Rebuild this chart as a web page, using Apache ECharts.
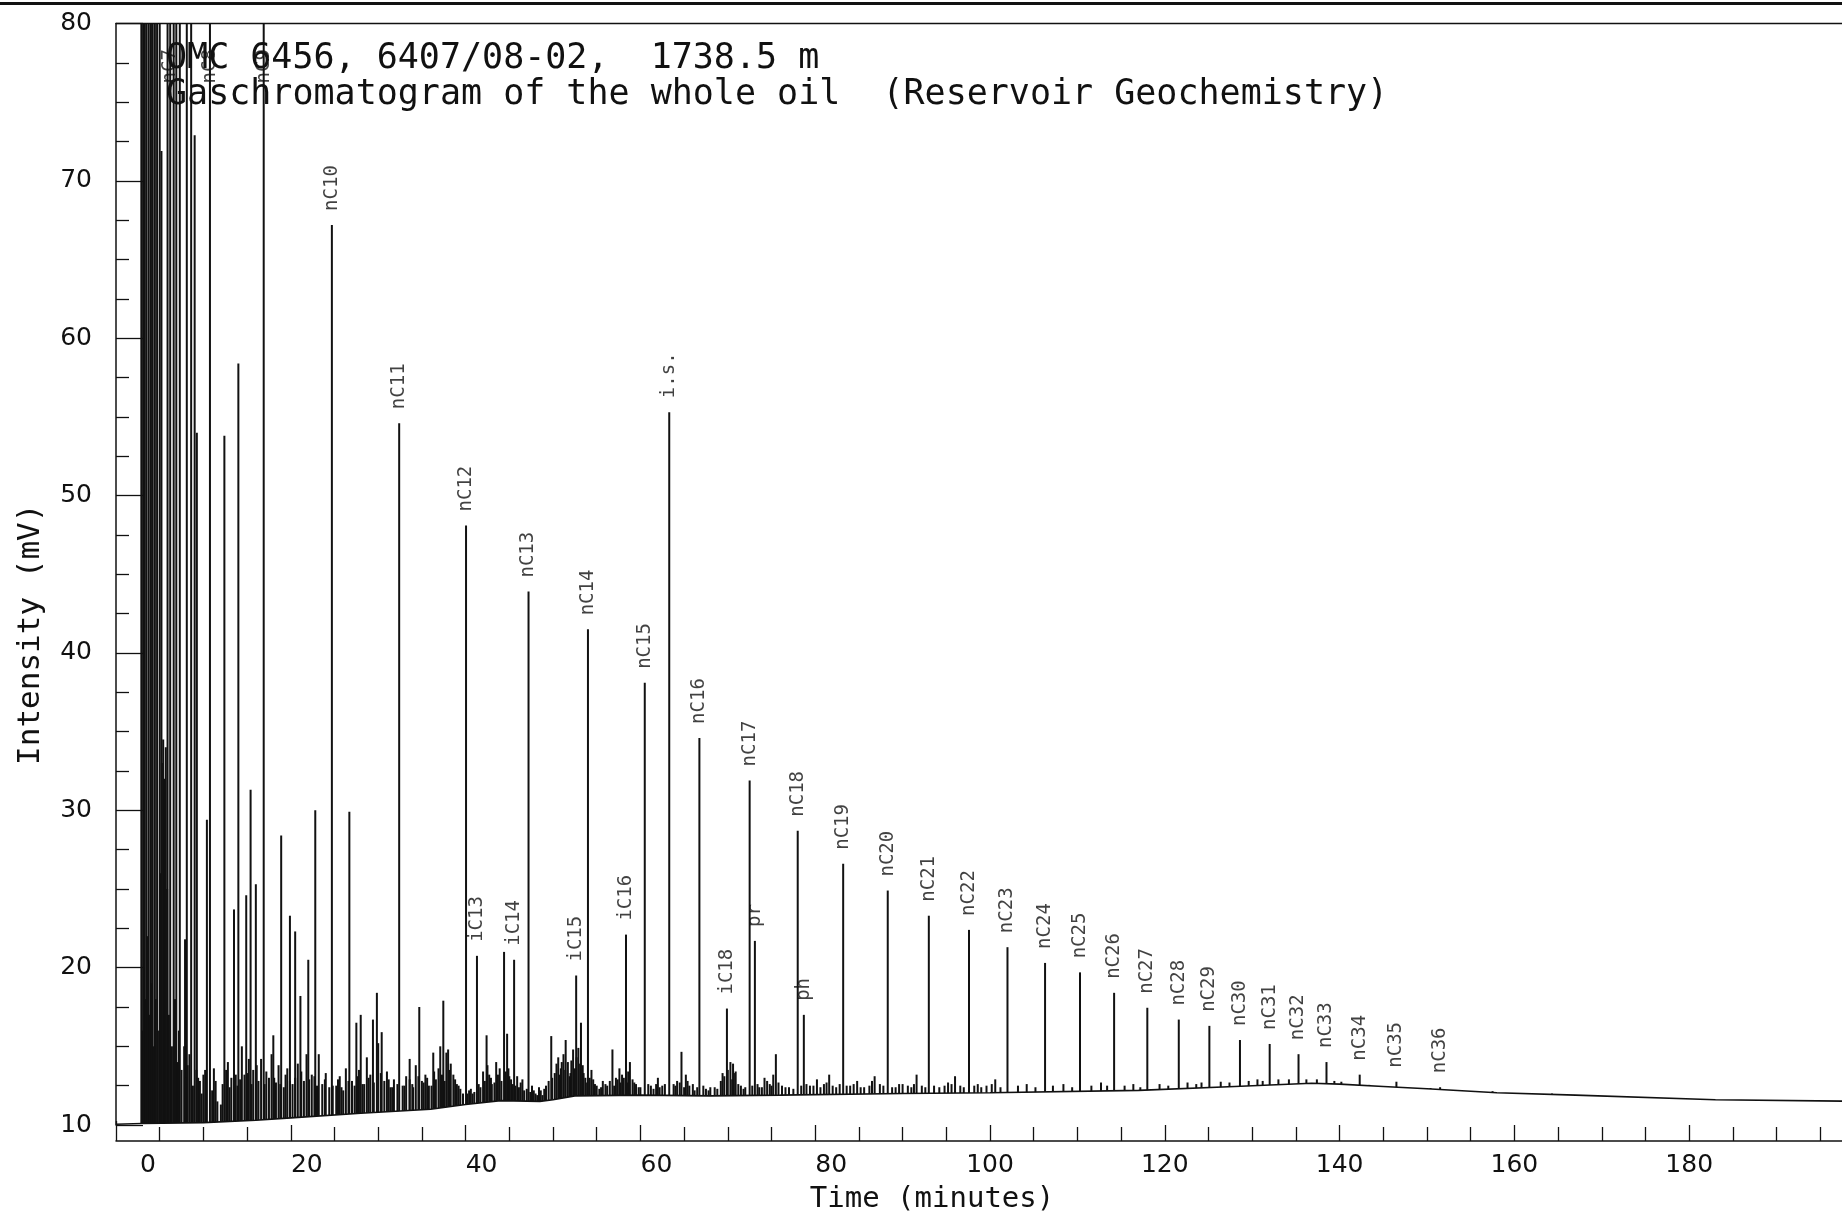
<!DOCTYPE html>
<html>
<head>
<meta charset="utf-8">
<title>Gaschromatogram of the whole oil</title>
<script src="https://cdn.jsdelivr.net/npm/echarts@6/dist/echarts.min.js"></script>
<style>
    html, body { margin: 0; padding: 0; background: #fff; }
    #chart { width: 1842px; height: 1215px; }
</style>
</head>
<body>
<div id="chart"></div>
<script>
// main peaks: retention time (min) and top (mV); 100 = off scale
const peakTime = [2.9, 3.1, 3.3, 3.5, 3.75, 4.0, 4.2, 4.45, 4.7, 5.0, 5.2, 5.9, 6.2, 6.6, 6.9, 7.3, 7.9, 8.1, 8.6, 9.0,
    9.25, 10.4, 10.75, 12.4, 13.5, 14.0, 14.9, 15.4, 16.0, 16.9, 18.0, 18.9, 19.9, 20.5, 21.1, 22.0, 22.8, 24.7, 26.7, 27.5,
    28.0, 29.4, 29.85, 30.4, 32.4, 33.6, 34.7, 36.3, 37.1, 37.45, 38.0, 40.05, 41.3, 42.4, 44.4, 44.75, 45.55, 47.2, 49.8, 51.45,
    52.65, 53.2, 54.0, 56.8, 58.35, 58.8, 60.5, 63.3, 64.7, 66.75, 69.9, 70.6, 72.5, 73.1, 75.5, 78.0, 78.7, 83.2, 86.8, 88.3,
    91.6, 93.0, 96.0, 97.6, 100.6, 102.0, 106.3, 110.3, 112.7, 114.2, 118.0, 121.6, 125.1, 126.4, 128.6, 132.0, 135.3, 138.5, 142.3, 146.5,
    151.5];
const peakHeight = [100, 100, 100, 100, 100, 100, 100, 100, 100, 100, 71.9, 100, 100, 100, 100, 100, 21.8, 100, 100, 72.9,
    54.0, 29.4, 100, 53.8, 23.7, 58.4, 24.6, 31.3, 25.3, 100, 15.7, 28.4, 23.3, 22.3, 18.2, 20.5, 30.0, 67.2, 29.9, 16.5,
    17.0, 16.7, 18.4, 15.9, 54.6, 14.2, 17.5, 14.6, 15.0, 17.9, 14.8, 48.1, 20.75, 15.7, 21.0, 15.8, 20.5, 43.9, 15.65, 15.4,
    19.5, 16.5, 41.5, 14.8, 22.1, 14.0, 38.1, 55.3, 14.65, 34.6, 17.4, 13.9, 31.9, 21.7, 14.5, 28.7, 17.0, 26.6, 13.1, 24.9,
    13.2, 23.3, 13.1, 22.4, 12.9, 21.3, 20.3, 19.7, 12.7, 18.4, 17.45, 16.7, 16.3, 12.75, 15.4, 15.15, 14.5, 14.0, 13.2, 12.75,
    12.4];

// small peaks near the baseline
const grassTime = [3.0, 3.2, 3.4, 3.6, 3.85, 4.1, 4.35, 4.55, 4.8, 5.1, 5.25, 5.4, 5.55, 5.7, 5.85, 6.05, 6.4, 6.75, 7.0, 7.2,
    7.5, 7.8, 8.0, 8.4, 8.8, 9.4, 9.8, 10.2, 11.2, 11.6, 12.0, 12.8, 13.2, 13.9, 14.4, 14.7, 15.2, 15.7, 16.3, 16.6,
    17.5, 17.8, 18.3, 18.6, 19.2, 19.6, 20.2, 20.8, 21.5, 21.8, 22.4, 23.2, 23.6, 24.0, 24.4, 25.2, 25.6, 26.0, 26.3, 27.0,
    27.8, 28.4, 28.7, 29.1, 30.0, 30.7, 31.0, 31.4, 31.8, 32.8, 33.2, 33.9, 34.3, 35.0, 35.4, 35.8, 36.6, 36.9, 37.8, 38.3,
    38.6, 39.0, 39.4, 39.7, 40.4, 40.8, 41.7, 42.0, 42.7, 43.0, 43.5, 43.9, 44.9, 45.2, 45.9, 46.3, 46.7, 47.6, 48.0, 48.4,
    48.8, 49.2, 50.2, 50.6, 50.9, 51.2, 51.7, 52.0, 52.3, 52.9, 53.4, 53.7, 54.4, 54.8, 55.3, 55.7, 56.2, 57.2, 57.6, 57.9,
    58.6, 59.1, 59.5, 60.0, 60.9, 61.5, 62.0, 62.5, 63.8, 64.2, 65.2, 65.6, 66.2, 67.2, 67.8, 68.5, 69.4, 70.3, 70.7, 71.2,
    71.8, 73.6, 74.2, 74.8, 75.2, 76.2, 77.0, 79.4, 80.2, 81.0, 81.6, 82.4, 84.0, 84.8, 85.6, 87.4, 89.2, 90.0, 91.0, 92.2,
    94.2, 95.2, 96.6, 98.6, 99.6, 101.2, 103.2, 104.2, 105.2, 107.2, 108.4, 109.4, 111.6, 113.4, 115.4, 116.4, 117.2, 119.4, 120.4, 122.6,
    123.6, 124.2, 127.4, 129.6, 130.6, 131.2, 133.0, 134.2, 136.2, 137.4, 139.4, 140.2, 143.4, 147.4, 150.4, 157.5, 164.3, 173.0];
const grassHeight = [16, 20, 18, 22, 17, 19, 15, 18, 16, 26, 33, 34.5, 32, 34, 25, 17, 15, 18, 14, 16,
    13.5, 15, 13, 14.5, 12.5, 13, 12, 13.5, 13.6, 11.5, 11.3, 14, 13, 12.5, 15, 13.2, 14.2, 13.5, 12.8, 14.2,
    13, 14.5, 12.7, 13.8, 12.4, 13.6, 12.6, 13.9, 12.8, 14.5, 13.2, 14.5, 12.6, 13.3, 12.4, 12.5, 13.1, 12.2, 13.6, 12.8,
    13.5, 12.6, 14.3, 13.2, 15.2, 12.8, 13.4, 12.4, 12.9, 12.5, 13.1, 12.6, 13.8, 12.8, 13.2, 12.5, 12.9, 13.6, 14.6, 13.9,
    13.2, 12.6, 12.3, 12.0, 12.2, 12.0, 12.4, 13.4, 13.2, 12.6, 14.0, 13.6, 13.6, 12.9, 13.1, 12.7, 12.2, 12.5, 12.0, 12.4,
    11.9, 12.5, 13.3, 14.3, 13.6, 14.5, 14.0, 13.3, 14.8, 14.9, 13.8, 13.0, 13.5, 12.6, 12.3, 12.8, 12.5, 13.0, 13.6, 13.2,
    13.4, 12.9, 12.6, 12.4, 12.6, 12.3, 13.0, 12.5, 12.6, 12.8, 13.2, 12.5, 12.2, 12.5, 12.2, 12.4, 13.3, 14.0, 13.3, 12.6,
    12.3, 12.4, 13.0, 12.6, 13.2, 12.5, 12.4, 12.5, 12.9, 12.6, 13.2, 12.4, 12.5, 12.8, 12.4, 12.6, 12.4, 12.6, 12.4, 12.5,
    12.4, 12.7, 12.5, 12.6, 12.5, 12.4, 12.5, 12.6, 12.4, 12.5, 12.6, 12.4, 12.5, 12.5, 12.5, 12.6, 12.4, 12.6, 12.5, 12.7,
    12.6, 12.7, 12.7, 12.8, 12.9, 12.8, 12.9, 12.9, 12.9, 12.9, 12.8, 12.75, 12.55, 12.4, 12.35, 12.15, 12.0, 11.8];

// finer fuzz between the small peaks
const fuzzTime = [8.2, 9.2, 9.6, 10.0, 11.0, 11.4, 12.2, 12.6, 13.0, 13.7, 14.2, 15.0, 15.5, 16.1, 17.0, 17.2, 18.1, 18.8, 19.4, 19.9,
    20.5, 21.2, 22.1, 22.7, 23.0, 23.9, 24.8, 25.4, 25.8, 26.6, 27.3, 27.6, 28.2, 28.9, 29.5, 30.3, 31.2, 31.6, 32.2, 33.0,
    33.6, 34.0, 34.6, 35.2, 35.6, 36.1, 36.4, 37.3, 37.6, 38.1, 38.8, 39.2, 40.2, 40.6, 41.0, 41.5, 42.2, 42.5, 42.9, 43.3,
    43.7, 44.1, 44.6, 45.0, 45.4, 45.7, 46.1, 46.5, 47.0, 47.4, 47.8, 48.2, 48.6, 49.0, 49.5, 49.9, 50.4, 50.8, 51.0, 51.4,
    51.9, 52.1, 52.5, 52.7, 53.1, 53.5, 53.9, 54.2, 54.6, 55.0, 55.5, 56.0, 56.5, 57.0, 57.4, 57.7, 58.1, 58.5, 59.3, 59.8,
    61.2, 61.8, 62.2, 62.8, 64.0, 64.5, 65.0, 65.4, 66.0, 66.5, 67.5, 68.0, 68.8, 69.2, 69.6, 70.0, 70.5, 70.9, 71.5, 72.0,
    72.8, 73.4, 73.9, 74.5, 75.0, 75.8, 76.6, 77.5, 78.4, 79.0, 79.8, 80.6, 81.3, 82.0, 82.8, 83.6, 84.4, 85.2, 86.2, 86.5,
    87.8, 88.8, 89.6, 90.6, 91.3, 92.6, 93.6, 94.8, 95.6, 97.0, 98.2, 99.0, 100.2];
const fuzzHeight = [13.8, 13.5, 12.8, 13.2, 12.2, 12.8, 12.6, 13.5, 12.4, 13.2, 12.9, 13.3, 12.6, 13.8, 12.6, 13.4, 13.0, 12.6, 13.2, 12.8,
    13.0, 13.4, 12.9, 13.1, 12.5, 12.9, 12.5, 12.9, 12.4, 12.8, 12.5, 13.1, 12.6, 13.0, 12.7, 13.3, 12.9, 12.4, 12.6, 12.5,
    12.9, 12.4, 13.1, 12.7, 13.0, 12.5, 13.4, 13.2, 12.8, 13.5, 12.9, 12.5, 12.0, 12.3, 12.1, 12.6, 12.8, 13.8, 13.0, 12.7,
    13.2, 12.8, 13.4, 13.1, 12.6, 12.5, 12.4, 12.9, 12.3, 12.1, 12.2, 11.9, 12.2, 12.3, 12.8, 13.0, 13.9, 13.2, 14.0, 13.5,
    13.1, 14.1, 13.6, 14.3, 13.9, 13.3, 12.7, 13.0, 12.9, 12.5, 12.4, 12.6, 12.8, 12.5, 12.9, 12.7, 13.0, 12.7, 12.7, 12.4,
    12.5, 12.6, 12.4, 12.6, 12.5, 12.7, 12.4, 12.8, 12.6, 12.4, 12.3, 12.4, 12.3, 12.8, 13.1, 13.5, 12.9, 13.4, 12.5, 12.4,
    12.5, 12.6, 12.4, 12.8, 12.5, 12.7, 12.4, 12.3, 12.5, 12.6, 12.5, 12.4, 12.7, 12.5, 12.6, 12.5, 12.6, 12.4, 12.5, 12.8,
    12.5, 12.4, 12.6, 12.5, 12.6, 12.4, 12.5, 12.5, 12.6, 12.4, 12.5, 12.4, 12.6];

// baseline of the trace
const baseTime = [0, 3, 10, 16, 20, 28, 36, 40, 44, 48.5, 50, 52.5, 60, 68, 76, 90, 100, 117, 128, 136.8,
    140, 145, 150, 158, 167, 183, 200];
const baseValue = [10.05, 10.1, 10.15, 10.3, 10.45, 10.75, 11.0, 11.3, 11.55, 11.5, 11.6, 11.85, 11.9, 11.85, 11.9, 12.0, 12.05, 12.2, 12.45, 12.65,
    12.6, 12.45, 12.3, 12.05, 11.9, 11.6, 11.5];

// named peaks
const labelName = ['nC7', 'nC8', 'nC9', 'nC10', 'nC11', 'nC12', 'iC13', 'iC14', 'nC13', 'iC15', 'nC14', 'iC16', 'nC15', 'i.s.',
    'nC16', 'iC18', 'nC17', 'pr', 'nC18', 'ph', 'nC19', 'nC20', 'nC21', 'nC22', 'nC23', 'nC24', 'nC25', 'nC26', 'nC27',
    'nC28', 'nC29', 'nC30', 'nC31', 'nC32', 'nC33', 'nC34', 'nC35', 'nC36'];
const labelTime = [6.2, 10.75, 16.9, 24.7, 32.4, 40.05, 41.3, 45.55, 47.2, 52.65, 54.0, 58.35, 60.5, 63.3,
    66.75, 69.9, 72.5, 73.1, 78.0, 78.7, 83.2, 88.3, 93.0, 97.6, 102.0, 106.3, 110.3, 114.2, 118.0,
    121.6, 125.1, 128.6, 132.0, 135.3, 138.5, 142.3, 146.5, 151.5];

const yMin = 10, yMax = 80;
const offScaleLabelAt = 75.3; // labels of off-scale peaks sit under the frame

const chart = echarts.init(document.getElementById('chart'));

const barData = peakTime.map((t, i) => [t, peakHeight[i]])
    .concat(grassTime.map((t, i) => [t, grassHeight[i]]))
    .concat(fuzzTime.map((t, i) => [t, fuzzHeight[i]]));
const baseData = baseTime.map((t, i) => [t, baseValue[i]]);
const labelData = labelName.map((name, i) => {
    const h = peakHeight[peakTime.indexOf(labelTime[i])];
    return { name: name, value: [labelTime[i], h > yMax ? offScaleLabelAt : h] };
});

const black = '#111';
const mono = 'DejaVu Sans Mono';

let option = {
    backgroundColor: '#fff',
    animation: false,
    title: {
        text: 'OMC 6456, 6407/08-02,  1738.5 m\nGaschromatogram of the whole oil  (Reservoir Geochemistry)',
        left: 161,
        top: 36,
        textStyle: {
            fontFamily: mono,
            fontSize: 35,
            fontWeight: 'normal',
            color: black,
            lineHeight: 36
        }
    },
    graphic: [{
        type: 'rect',
        shape: { x: 0, y: 2, width: 1842, height: 3 },
        style: { fill: black }
    }],
    grid: {
        left: 116,
        right: -22,
        top: 23.5,
        bottom: 90,
        outerBoundsMode: 'none'
    },
    xAxis: [{
        type: 'value',
        min: 0,
        max: 200,
        interval: 20,
        offset: 16,
        position: 'bottom',
        name: 'Time (minutes)',
        nameLocation: 'middle',
        nameGap: 44,
        nameTextStyle: {
            fontFamily: mono,
            fontSize: 29,
            color: black,
            padding: [0, 116, 0, 0]
        },
        splitLine: { show: false },
        axisLine: { lineStyle: { color: black, width: 1.5 } },
        axisTick: { inside: true, length: 20, lineStyle: { color: black, width: 1.3 } },
        minorTick: { show: true, splitNumber: 4, length: 14, lineStyle: { color: black, width: 1.3 } },
        axisLabel: {
            margin: 12,
            showMaxLabel: false,
            fontFamily: 'DejaVu Sans',
            fontSize: 25,
            color: black,
            formatter: (v) => v === 0 ? '{z|0}' : (v < 100 ? '{a|' + v + '}' : '' + v),
            rich: {
                z: { padding: [0, 0, 0, 64] },
                a: { padding: [0, 0, 0, 32] }
            }
        }
    }, {
        type: 'value',
        min: 0,
        max: 200,
        position: 'top',
        splitLine: { show: false },
        axisLine: { lineStyle: { color: black, width: 1.3 } },
        axisTick: { show: false },
        axisLabel: { show: false }
    }],
    yAxis: {
        type: 'value',
        min: yMin,
        max: yMax,
        interval: 10,
        name: 'Intensity (mV)',
        nameLocation: 'middle',
        nameGap: 70,
        nameRotate: 90,
        nameTextStyle: {
            fontFamily: mono,
            fontSize: 31,
            color: black,
            padding: [0, 120, 0, 0]
        },
        splitLine: { show: false },
        axisLine: { lineStyle: { color: black, width: 1.5 } },
        axisTick: { inside: true, length: 27, lineStyle: { color: black, width: 1.3 } },
        minorTick: { show: true, splitNumber: 4, length: 13, lineStyle: { color: black, width: 1.3 } },
        axisLabel: {
            margin: 24,
            fontFamily: 'DejaVu Sans',
            fontSize: 25,
            color: black
        }
    },
    series: [
        {
            name: 'peaks',
            type: 'bar',
            data: barData,
            barWidth: 2,
            clip: true,
            z: 2,
            itemStyle: { color: black }
        },
        {
            // white under the baseline hides the feet of the peaks
            name: 'baseline',
            type: 'line',
            data: baseData,
            showSymbol: false,
            symbol: 'none',
            z: 3,
            lineStyle: { color: black, width: 1.6 },
            areaStyle: { color: '#fff', opacity: 1, origin: 'start' }
        },
        {
            name: 'labels',
            type: 'scatter',
            data: labelData,
            symbolSize: 0,
            z: 5,
            label: {
                show: true,
                position: 'top',
                distance: 14,
                rotate: 90,
                align: 'left',
                verticalAlign: 'middle',
                fontFamily: mono,
                fontSize: 19,
                color: black,
                formatter: (p) => p.name
            }
        }
    ]
};

chart.setOption(option);
</script>
</body>
</html>
